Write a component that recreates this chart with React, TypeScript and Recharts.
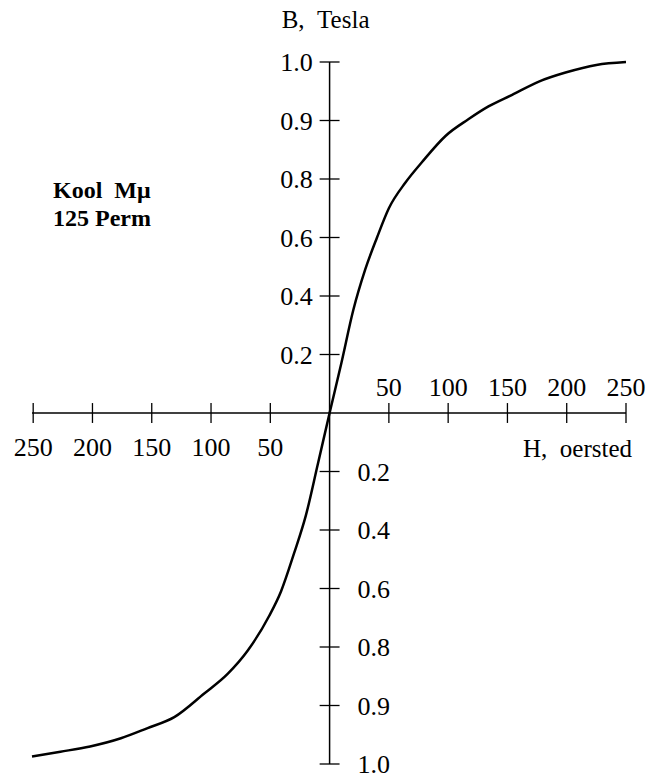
import React from 'react';
import { LineChart, Line, XAxis, YAxis, ReferenceLine } from 'recharts';

// H in oersted, B in tesla
const H_VALUES = [
  -251, -227, -202, -176, -154, -131, -106, -86, -69, -51, -41, -30, -20, -10, 0,
  10, 20, 30, 40, 50, 64, 78, 98, 117, 134, 154, 177, 199, 225, 250,
];
const B_VALUES = [
  -0.987, -0.979, -0.97, -0.956, -0.939, -0.92, -0.88, -0.846, -0.806, -0.694, -0.61, -0.48, -0.35, -0.176, 0,
  0.172, 0.352, 0.49, 0.6, 0.7, 0.788, 0.829, 0.874, 0.902, 0.924, 0.944, 0.967, 0.982, 0.995, 1.0,
];

const H_TICKS = [-250, -200, -150, -100, -50, 50, 100, 150, 200, 250];
// B axis is not linear: equal spacing for 0.2, 0.4, 0.6, 0.8, then 0.9, 1.0
const B_TICK_LABELS = ['0.2', '0.4', '0.6', '0.8', '0.9', '1.0'];
const B_TICK_VALUES = [0.2, 0.4, 0.6, 0.8, 0.9, 1.0];

const FONT = '"Liberation Serif", "Times New Roman", serif';
const NUM_SIZE = 26;

// tesla -> position on the printed B axis (one step per tick)
const bToPos = (b: number) => {
  const a = Math.abs(b);
  const p = a <= 0.8 ? a / 0.2 : 4 + (a - 0.8) / 0.1;
  return b < 0 ? -p : p;
};

const data = H_VALUES.map((h, i) => ({ h, pos: bToPos(B_VALUES[i]) }));

const TICK_HALF_Y = 0.17; // in axis steps
const TICK_HALF_X = 8.4; // in oersted

const AxisTitle = (props: any) => {
  const { viewBox, text, dx = 0, dy = 0, anchor = 'middle', corner = 'start' } = props;
  const x = corner === 'end' ? viewBox.x + viewBox.width : viewBox.x;
  return (
    <text x={x + dx} y={viewBox.y + dy} textAnchor={anchor} fontSize={25} fontFamily={FONT} fill="#000">
      {text}
    </text>
  );
};

export default function App() {
  return (
    <div style={{ position: 'absolute', left: 0, top: 0, width: 647, height: 774, background: '#fff' }}>
      <LineChart
        width={647}
        height={774}
        data={data}
        margin={{ top: 62, right: 21, bottom: 10, left: 32 }}
      >
        <XAxis dataKey="h" type="number" domain={[-250, 250]} hide />
        <YAxis type="number" domain={[-6, 6]} hide />

        <ReferenceLine
          y={0}
          stroke="#000"
          strokeWidth={1.5}
          label={<AxisTitle text={'H,\u00A0\u00A0oersted'} corner="end" anchor="end" dx={6} dy={44} />}
        />
        <ReferenceLine
          x={0}
          stroke="#000"
          strokeWidth={1.5}
          label={<AxisTitle text={'B,\u00A0\u00A0Tesla'} dx={-4} dy={-34} />}
        />

        {H_TICKS.map((t) => (
          <ReferenceLine
            key={`hx-${t}`}
            segment={[{ x: t, y: -TICK_HALF_Y }, { x: t, y: TICK_HALF_Y }]}
            stroke="#000"
            strokeWidth={1.3}
            label={{
              value: String(Math.abs(t)),
              position: t > 0 ? 'top' : 'bottom',
              offset: t > 0 ? 7 : 15,
              fill: '#000',
              fontSize: NUM_SIZE,
              fontFamily: FONT,
            }}
          />
        ))}

        {B_TICK_VALUES.map((b, i) => {
          const p = bToPos(b);
          return [
            <ReferenceLine
              key={`by-${b}`}
              segment={[{ x: -TICK_HALF_X, y: p }, { x: TICK_HALF_X, y: p }]}
              stroke="#000"
              strokeWidth={1.3}
              label={{ value: B_TICK_LABELS[i], position: 'left', offset: 7, fill: '#000', fontSize: NUM_SIZE, fontFamily: FONT }}
            />,
            <ReferenceLine
              key={`bn-${b}`}
              segment={[{ x: -TICK_HALF_X, y: -p }, { x: TICK_HALF_X, y: -p }]}
              stroke="#000"
              strokeWidth={1.3}
              label={{ value: B_TICK_LABELS[i], position: 'right', offset: 18, fill: '#000', fontSize: NUM_SIZE, fontFamily: FONT }}
            />,
          ];
        })}

        <Line
          type="monotone"
          dataKey="pos"
          stroke="#000"
          strokeWidth={2.5}
          dot={false}
          isAnimationActive={false}
        />
      </LineChart>

      <div
        style={{
          position: 'absolute',
          left: 53,
          top: 176,
          fontFamily: FONT,
          fontWeight: 'bold',
          fontSize: 24,
          lineHeight: '28px',
          color: '#000',
          whiteSpace: 'pre',
        }}
      >
        {'Kool  Mμ\n125 Perm'}
      </div>
    </div>
  );
}
